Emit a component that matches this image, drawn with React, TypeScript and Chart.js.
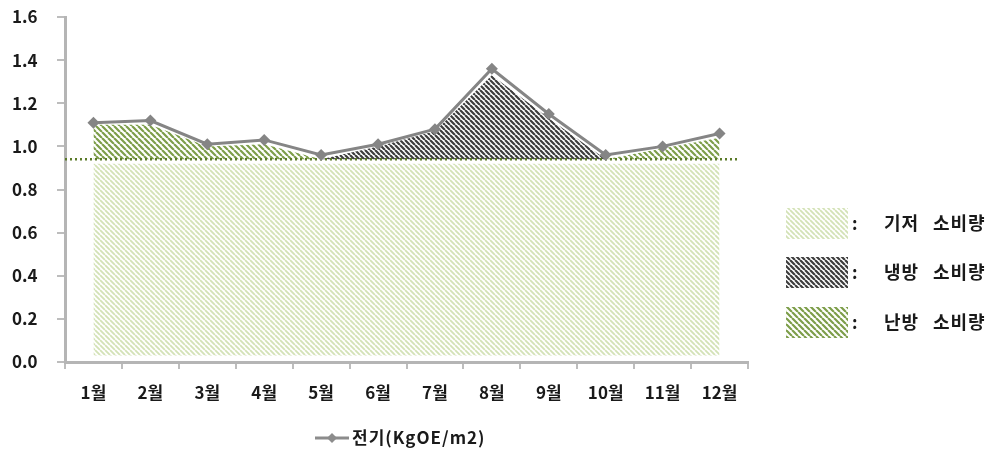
import React, { useEffect, useRef } from "react";
import { Chart, registerables } from "chart.js";

Chart.register(...registerables);

const months = ["1월", "2월", "3월", "4월", "5월", "6월", "7월", "8월", "9월", "10월", "11월", "12월"];
const electricity = [1.11, 1.12, 1.01, 1.03, 0.96, 1.01, 1.08, 1.36, 1.15, 0.96, 1.0, 1.06];
const baseUse = [0.92, 0.92, 0.92, 0.92, 0.92, 0.92, 0.92, 0.92, 0.92, 0.92, 0.92, 0.92];
const heatingTop = [1.1, 1.1, 1.0, 1.01, 0.94, 0.94, 0.94, 0.94, 0.94, 0.94, 0.99, 1.04];
const coolingTop = [0.94, 0.94, 0.94, 0.94, 0.94, 1.0, 1.07, 1.33, 1.13, 0.94, 0.94, 0.94];
const baseLevel = 0.94;
const yTicks = [0, 0.2, 0.4, 0.6, 0.8, 1.0, 1.2, 1.4, 1.6];
const seriesLabel = "전기(KgOE/m2)";
const legendLabels = [
  ["기저", "소비량"],
  ["냉방", "소비량"],
  ["난방", "소비량"],
];

const FONT = '"Noto Sans CJK KR", "Noto Sans", sans-serif';

function makeHatch(color: string, size: number, width: number): CanvasPattern | string {
  const c = document.createElement("canvas");
  c.width = size;
  c.height = size;
  const g = c.getContext("2d");
  if (!g) return color;
  g.strokeStyle = color;
  g.lineWidth = width;
  g.beginPath();
  for (const k of [-size, 0, size]) {
    g.moveTo(k, 0);
    g.lineTo(k + size, size);
  }
  g.stroke();
  const p = g.createPattern(c, "repeat");
  return p || color;
}

export default function App() {
  const ref = useRef<HTMLCanvasElement>(null);

  useEffect(() => {
    if (!ref.current) return;
    const basePat = makeHatch("#d3e2b6", 5, 1.8);
    const coolPat = makeHatch("#3d3d3d", 5, 2.2);
    const heatPat = makeHatch("#7d9e4a", 6, 2.2);
    const pats = [basePat, coolPat, heatPat];

    const overlay = {
      id: "overlay",
      beforeDatasetDraw(chart: any, args: any) {
        if (args.index !== 0) return;
        const { ctx, chartArea } = chart;
        const y = chart.scales.y.getPixelForValue(baseLevel);
        ctx.save();
        ctx.strokeStyle = "#5a7a28";
        ctx.lineWidth = 2.5;
        ctx.setLineDash([2, 3]);
        ctx.beginPath();
        ctx.moveTo(chartArea.left, y);
        ctx.lineTo(chartArea.right - 10, y);
        ctx.stroke();
        ctx.restore();
      },
      afterDraw(chart: any) {
        const ctx = chart.ctx;
        ctx.save();
        // right legend
        const rows = [208, 257, 307];
        rows.forEach((top, i) => {
          ctx.fillStyle = pats[i];
          ctx.fillRect(786, top, 62, 31);
          ctx.fillStyle = "#1a1a1a";
          ctx.font = `bold 17px ${FONT}`;
          ctx.textBaseline = "middle";
          ctx.textAlign = "left";
          ctx.fillText(":", 852, top + 16);
          ctx.font = `bold 18px ${FONT}`;
          (ctx as any).letterSpacing = "1px";
          ctx.fillText(legendLabels[i][0], 884, top + 15);
          ctx.fillText(legendLabels[i][1], 933, top + 15);
          (ctx as any).letterSpacing = "0px";
        });
        // bottom legend
        ctx.strokeStyle = "#8c8c8c";
        ctx.lineWidth = 3;
        ctx.beginPath();
        ctx.moveTo(315, 438);
        ctx.lineTo(349, 438);
        ctx.stroke();
        ctx.fillStyle = "#8c8c8c";
        ctx.beginPath();
        ctx.moveTo(332, 433);
        ctx.lineTo(337, 438);
        ctx.lineTo(332, 443);
        ctx.lineTo(327, 438);
        ctx.closePath();
        ctx.fill();
        ctx.fillStyle = "#1a1a1a";
        ctx.font = `bold 17px ${FONT}`;
        (ctx as any).letterSpacing = "1px";
        ctx.textBaseline = "middle";
        ctx.fillText(seriesLabel, 352, 438);
        (ctx as any).letterSpacing = "0px";
        ctx.restore();
      },
    };

    const chart = new Chart(ref.current, {
      type: "line",
      data: {
        labels: months,
        datasets: [
          {
            label: seriesLabel,
            data: electricity,
            borderColor: "#858585",
            backgroundColor: "#858585",
            borderWidth: 3,
            pointStyle: "rectRot",
            pointRadius: 6,
            pointBorderWidth: 0,
            pointBackgroundColor: "#858585",
            fill: false,
            tension: 0,
          },
          {
            label: legendLabels[1].join(" "),
            data: coolingTop,
            borderWidth: 0,
            pointRadius: 0,
            backgroundColor: coolPat as any,
            fill: { value: baseLevel },
            tension: 0,
          },
          {
            label: legendLabels[2].join(" "),
            data: heatingTop,
            borderWidth: 0,
            pointRadius: 0,
            backgroundColor: heatPat as any,
            fill: { value: baseLevel },
            tension: 0,
          },
          {
            label: legendLabels[0].join(" "),
            data: baseUse,
            borderWidth: 0,
            pointRadius: 0,
            backgroundColor: basePat as any,
            fill: { value: 0.03 },
            tension: 0,
          },
        ],
      },
      options: {
        animation: false,
        responsive: true,
        maintainAspectRatio: false,
        layout: { padding: { left: 12, top: 17, right: 252, bottom: 51 } },
        plugins: { legend: { display: false }, tooltip: { enabled: false } },
        scales: {
          x: {
            offset: true,
            grid: { display: true, drawOnChartArea: false, offset: true, tickLength: 7, color: "#bdbdbd", lineWidth: 2 },
            border: { color: "#b5b5b5", width: 3 },
            ticks: { color: "#1a1a1a", font: { family: FONT, size: 17, weight: "bold" }, padding: 13, maxRotation: 0 },
            afterFit: (s: any) => {
              s.height = 40;
            },
          },
          y: {
            min: 0,
            max: 1.6,
            afterBuildTicks: (s: any) => {
              s.ticks = yTicks.map((v) => ({ value: v }));
            },
            grid: { display: true, drawOnChartArea: false, tickLength: 8, color: "#bdbdbd", lineWidth: 2 },
            border: { color: "#b5b5b5", width: 3 },
            ticks: {
              color: "#1a1a1a",
              font: { family: FONT, size: 17, weight: "bold" },
              padding: 0,
              crossAlign: "far",
              callback: (v: any) => Number(v).toFixed(1),
            },
            afterFit: (s: any) => {
              s.width = 53;
            },
          },
        },
      },
      plugins: [overlay],
    } as any);
    return () => chart.destroy();
  }, []);

  return (
    <div style={{ position: "fixed", left: 0, top: 0, width: 1000, height: 453, background: "#fff" }}>
      <canvas ref={ref} />
    </div>
  );
}
